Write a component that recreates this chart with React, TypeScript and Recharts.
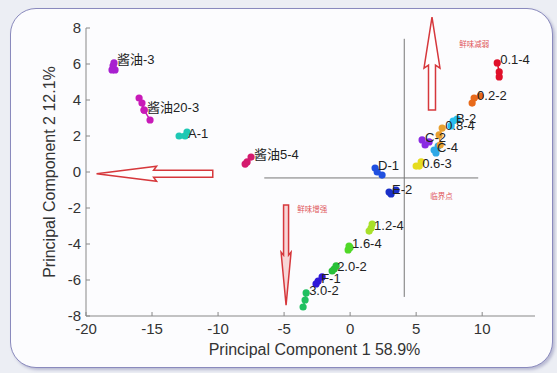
// PCA score plot: sample clusters with guide lines and umami arrows
import React from 'react';
import { ScatterChart, Scatter, XAxis, YAxis, ReferenceLine, ReferenceDot } from 'recharts';

const sampleNames = [
  '酱油-3', '酱油20-3', 'A-1', '酱油5-4', 'D-1', 'E-2', '0.6-3', 'C-2', 'C-4',
  '0.8-4', 'B-2', '0.2-2', '0.1-4', '1.2-4', '1.6-4', '2.0-2', 'F-1', '3.0-2',
];

// first pair of each sample carries its label
const sampleScores: [number, number][][] = [
  [[-17.88, 6.06], [-17.95, 5.9], [-17.8, 5.67], [-18.03, 5.67]],
  [[-15.6, 3.44], [-15.76, 3.83], [-15.98, 4.11], [-15.6, 3.44], [-15.15, 2.89]],
  [[-12.5, 2.0], [-12.95, 2.0], [-12.35, 2.22]],
  [[-7.5, 0.83], [-7.8, 0.56], [-7.95, 0.44]],
  [[1.89, 0.22], [2.05, 0.0], [2.42, -0.17]],
  [[2.95, -1.11], [3.1, -1.22], [3.48, -1.0]],
  [[5.23, 0.33], [5.0, 0.33], [5.38, 0.56]],
  [[5.45, 1.78], [5.68, 1.5], [5.98, 1.67]],
  [[6.36, 1.22], [6.5, 1.06], [6.67, 1.44]],
  [[6.97, 2.44], [6.74, 2.06], [6.82, 1.5]],
  [[7.8, 2.83], [7.65, 2.56], [8.1, 2.94]],
  [[9.39, 4.11], [9.24, 3.83], [9.85, 4.22]],
  [[11.14, 6.06], [11.29, 5.56], [11.29, 5.28]],
  [[1.59, -3.11], [1.67, -2.89], [1.44, -3.28]],
  [[-0.08, -4.11], [-0.15, -4.33], [0.0, -4.2]],
  [[-1.21, -5.39], [-1.36, -5.5], [-1.06, -5.22]],
  [[-2.42, -6.06], [-2.12, -5.83], [-2.58, -6.22]],
  [[-3.33, -6.72], [-3.41, -7.11], [-3.56, -7.5]],
];

const xTicks = [-20, -15, -10, -5, 0, 5, 10];
const yTicks = [-8, -6, -4, -2, 0, 2, 4, 6, 8];

const guideLines = [
  [{ x: -6.5, y: -0.33 }, { x: 9.7, y: -0.33 }],
  [{ x: 4.1, y: 7.4 }, { x: 4.1, y: -6.94 }],
];

// arrows: tail -> tip
const arrowTails = [{ x: 6.2, y: 3.45 }, { x: -10.4, y: -0.1 }, { x: -4.85, y: -1.83 }];
const arrowTips = [{ x: 6.2, y: 8.6 }, { x: -19.2, y: -0.1 }, { x: -4.85, y: -7.4 }];

const noteTexts = ['鲜味减弱', '鲜味增强', '临界点'];
const notePos = [{ x: 8.26, y: 7.1 }, { x: -4.0, y: -2.1 }, { x: 6.06, y: -1.33 }];

const colors = [
  '#a81fd0', '#c81ab8', '#1ec8b4', '#d41a6e', '#1f4fe0', '#1a2fc8', '#e6dc1e', '#8a2be2', '#2ea8e6',
  '#e8a030', '#28c0f0', '#e86a1a', '#e0102a', '#a8e02a', '#50d828', '#28c038', '#3018d8', '#20c060',
];
const arrowLook = [
  { head: 48, headW: 16, shaftW: 7, fill: '#ffffff' },
  { head: 57, headW: 15, shaftW: 7, fill: '#ffffff' },
  { head: 50, headW: 10, shaftW: 5, fill: '#f7d6d6' },
];

const font = '"Liberation Sans", Arial, sans-serif';
const cjk = '"Liberation Sans", "Noto Sans CJK SC", sans-serif';

const XTick = (p: any) => (
  <g>
    <line x1={p.x} x2={p.x} y1={p.y - 4} y2={p.y - 8} stroke="#888" />
    <text x={p.x} y={p.y} dy="0.95em" textAnchor="middle" fontSize={15} fontFamily={font} fill="#333">
      {p.payload.value}
    </text>
  </g>
);

const YTick = (p: any) => (
  <g>
    <line x1={p.x + 5} x2={p.x + 9} y1={p.y} y2={p.y} stroke="#888" />
    <text x={p.x} y={p.y} dy="0.35em" textAnchor="end" fontSize={15} fontFamily={font} fill="#333">
      {p.payload.value}
    </text>
  </g>
);

const arrowShape = (look: (typeof arrowLook)[number]) => (p: any) => {
  const { x1, y1, x2, y2 } = p;
  const len = Math.hypot(x2 - x1, y2 - y1) || 1;
  const ux = (x2 - x1) / len;
  const uy = (y2 - y1) / len;
  const nx = -uy;
  const ny = ux;
  const bx = x2 - ux * look.head;
  const by = y2 - uy * look.head;
  const s = look.shaftW / 2;
  const h = look.headW / 2;
  const pts = [
    [x1 + nx * s, y1 + ny * s],
    [bx + nx * s, by + ny * s],
    [bx - ux * 3 + nx * h, by - uy * 3 + ny * h],
    [x2, y2],
    [bx - ux * 3 - nx * h, by - uy * 3 - ny * h],
    [bx - nx * s, by - ny * s],
    [x1 - nx * s, y1 - ny * s],
  ];
  return (
    <polygon
      points={pts.map((q) => q.join(',')).join(' ')}
      fill={look.fill}
      stroke="#d6383c"
      strokeWidth={1.5}
      strokeLinejoin="miter"
    />
  );
};

const dotShape = (color: string) => (p: any) => <circle cx={p.cx} cy={p.cy} r={3.6} fill={color} />;

const tagShape = (p: any) => (
  <text x={p.cx + 3} y={p.cy - 3} dy="0.35em" fontSize={13} fontFamily={cjk} fill="#222">
    {p.payload.tag}
  </text>
);

export default function App() {
  const series = sampleNames.map((name, i) => ({
    name,
    color: colors[i],
    data: sampleScores[i].map(([x, y]) => ({ x, y })),
  }));
  const tags = sampleNames.map((name, i) => ({ x: sampleScores[i][0][0], y: sampleScores[i][0][1], tag: name }));

  return (
    <div style={{ position: 'absolute', left: 0, top: 0, width: 557, height: 373, background: '#eceef4' }}>
      <div
        style={{
          position: 'absolute',
          left: 10,
          top: 8,
          width: 541,
          height: 358,
          border: '1.5px solid #8a8abd',
          borderRadius: 26,
          background: '#fcfcfe',
          boxShadow: '2px 2px 3px rgba(90,90,150,0.35)',
        }}
      />
      <div style={{ position: 'absolute', left: 0, top: 0 }}>
        <ScatterChart width={557} height={373} margin={{ top: 28, right: 22, bottom: 0, left: 0 }}>
          <XAxis
            type="number"
            dataKey="x"
            domain={[-20, 14]}
            ticks={xTicks}
            interval={0}
            height={57}
            tickSize={0}
            tickMargin={4}
            tick={XTick}
            axisLine={{ stroke: '#888' }}
            allowDataOverflow
            label={(lp: any) => {
              const vb = lp.viewBox;
              return (
                <text x={vb.x + vb.width / 2 + 4} y={vb.y + 39} textAnchor="middle" fontSize={16} fontFamily={font} fill="#333">
                  Principal Component 1 58.9%
                </text>
              );
            }}
          />
          <YAxis
            type="number"
            dataKey="y"
            domain={[-8, 8]}
            ticks={yTicks}
            interval={0}
            width={86}
            tickSize={0}
            tickMargin={5}
            tick={YTick}
            axisLine={{ stroke: '#888' }}
            allowDataOverflow
            label={(lp: any) => {
              const vb = lp.viewBox;
              const cx = 49;
              const cy = vb.y + vb.height / 2;
              return (
                <text
                  x={cx}
                  y={cy}
                  transform={`rotate(-90, ${cx}, ${cy})`}
                  textAnchor="middle"
                  dy="0.35em"
                  fontSize={16}
                  fontFamily={font}
                  fill="#333"
                >
                  Principal Component 2 12.1%
                </text>
              );
            }}
          />
          {guideLines.map((seg, i) => (
            <ReferenceLine key={'g' + i} segment={seg} stroke="#777" strokeWidth={1} ifOverflow="visible" />
          ))}
          {arrowTails.map((t, i) => (
            <ReferenceLine
              key={'a' + i}
              segment={[t, arrowTips[i]]}
              ifOverflow="visible"
              shape={arrowShape(arrowLook[i])}
            />
          ))}
          {noteTexts.map((t, i) => (
            <ReferenceDot
              key={'n' + i}
              x={notePos[i].x}
              y={notePos[i].y}
              r={0}
              ifOverflow="visible"
              shape={(p: any) => (
                <text x={p.cx} y={p.cy} dy="0.35em" fontSize={7.5} fontFamily={cjk} fill="#e0585c">
                  {t}
                </text>
              )}
            />
          ))}
          {series.map((s) => (
            <Scatter
              key={s.name}
              name={s.name}
              data={s.data}
              fill={s.color}
              line={{ stroke: s.color, strokeWidth: 1.5 }}
              shape={dotShape(s.color)}
              isAnimationActive={false}
            />
          ))}
          <Scatter data={tags} shape={tagShape} isAnimationActive={false} />
        </ScatterChart>
      </div>
    </div>
  );
}
